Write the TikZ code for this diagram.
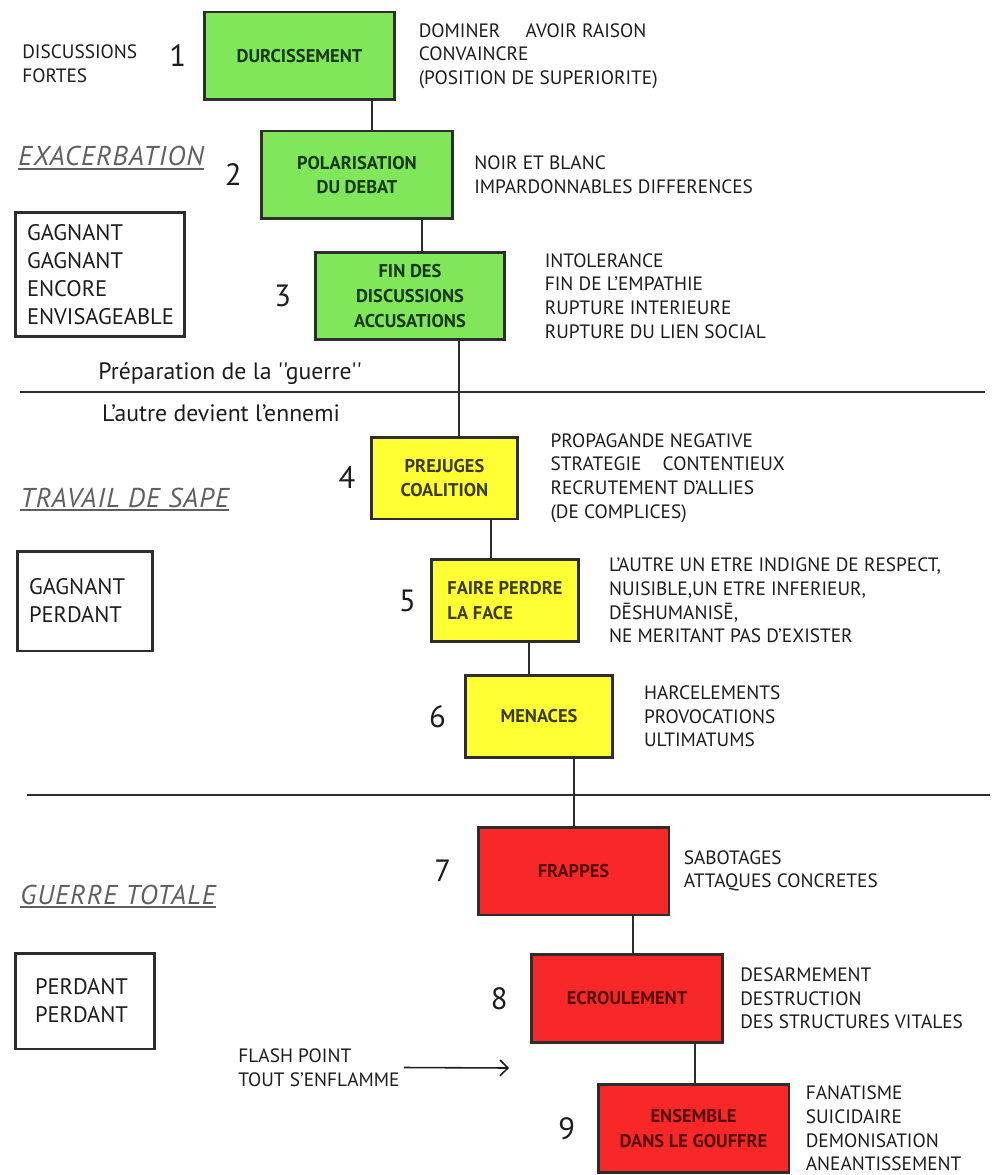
\documentclass[tikz,border=0pt]{standalone}
\usepackage{fontspec}
\setmainfont{PT Sans}
\newfontfamily\droitfont{PT Sans}
\usepackage{tikz}
\usetikzlibrary{positioning,arrows.meta}
\usepackage{xcolor}
\definecolor{vert}{RGB}{128,230,90}
\definecolor{jaune}{RGB}{255,255,51}
\definecolor{rouge}{RGB}{248,40,40}
\definecolor{bord}{RGB}{45,45,45}
\definecolor{encre}{RGB}{28,28,28}
\definecolor{txtvert}{RGB}{25,55,20}
\definecolor{txtjaune}{RGB}{60,60,10}
\definecolor{txtrouge}{RGB}{85,10,10}
\definecolor{gristitre}{RGB}{95,95,95}
\tikzset{
etape/.style = {rectangle, draw=bord, line width=1.7pt, align=center, inner sep=0pt,
font=\fontsize{10.5}{14}\selectfont\bfseries},
etape_v/.style = {etape, fill=vert, text=txtvert, minimum width=3.82cm, minimum height=1.76cm},% etape verte
etape_j/.style = {etape, fill=jaune, text=txtjaune, minimum width=2.93cm, minimum height=1.64cm},% etape jaune
etape_r/.style = {etape, fill=rouge, text=txtrouge, minimum width=3.82cm, minimum height=1.76cm},% etape rouge
etape_num/.style = {inner sep=0pt, text=encre, font=\fontsize{17.5}{20}\selectfont},% numero de l'etape
cote/.style = {inner sep=0pt, align=left, text=encre, font=\fontsize{11}{13.4}\selectfont},% texte a droite
bilan/.style = {rectangle, draw=bord, line width=1.7pt, align=left, inner xsep=0.24cm, text=encre,
font=\fontsize{12.8}{16}\selectfont},% gagnant / perdant
titre/.style = {inner sep=0pt, anchor=base west, text=gristitre,
font=\fontsize{15.5}{17}\selectfont\itshape\addfontfeatures{LetterSpace=4}},
phrase/.style = {inner sep=0pt, text=encre, font=\fontsize{13.5}{15}\selectfont},
lien/.style = {draw=bord, line width=1.4pt},
separe/.style = {draw=bord, line width=1.6pt},
souligne/.style = {draw=gristitre, line width=0.9pt},
fleche/.style = {draw=encre, line width=0.9pt, -{Straight Barb[length=4.5pt,width=9pt]}}
}
\begin{document}
\begin{tikzpicture}[x=0.02cm, y=-0.02cm]
\useasboundingbox (0,0) rectangle (992,1175);
% les neuf etapes
\node [etape_v] (b1) at (299.5,56) {DURCISSEMENT};
\node [etape_v] (b2) at (357,175) {POLARISATION\\DU DEBAT};
\node [etape_v, minimum width=3.8cm] (b3) at (410,296) {FIN DES\\DISCUSSIONS\\ACCUSATIONS};
\node [etape_j] (b4) at (444.5,478) {PREJUGES\\COALITION};
\node [etape_j, align=left] (b5) at (505,600.5) {FAIRE PERDRE\\LA FACE};
\node [etape_j] (b6) at (539,716.5) {MENACES};
\node [etape_r] (b7) at (573.5,871) {FRAPPES};
\node [etape_r] (b8) at (627,998.5) {ECROULEMENT};
\node [etape_r] (b9) at (693.5,1128.5) {ENSEMBLE\\DANS LE GOUFFRE};
\foreach \i/\d in {1/0.32, 2/0.36, 3/0.44, 4/0.28, 5/0.28, 6/0.36, 7/0.5, 8/0.44, 9/0.42}
  \node [etape_num, left=\d cm of b\i] (n\i) {\i};
\foreach \a/\b/\d in {1/2/72.5, 2/3/65, 3/4/49, 4/5/46.5, 5/6/24, 6/7/35, 7/8/59.5, 8/9/68}
  \draw [lien] ([xshift=\d*0.02cm]b\a.south) -- ([xshift=\d*0.02cm]b\a.south |- b\b.north);
% textes a droite
\node [cote, right=0.44cm of b1] (t1) {DOMINER\hspace{1.3em}AVOIR RAISON\\CONVAINCRE\\(POSITION DE SUPERIORITE)};
\node [cote, right=0.4cm of b2] (t2) {NOIR ET BLANC\\IMPARDONNABLES DIFFERENCES};
\node [cote, right=0.76cm of b3] (t3) {INTOLERANCE\\FIN DE L’EMPATHIE\\RUPTURE INTERIEURE\\RUPTURE DU LIEN SOCIAL};
\node [cote, right=0.62cm of b4] (t4) {PROPAGANDE NEGATIVE\\STRATEGIE\hspace{1.1em}CONTENTIEUX\\RECRUTEMENT D’ALLIES\\(DE COMPLICES)};
\node [cote, right=0.58cm of b5] (t5) {L’AUTRE UN ETRE INDIGNE DE RESPECT,\\NUISIBLE,UN ETRE INFERIEUR,\\DĒSHUMANISĒ,\\NE MERITANT PAS D’EXISTER};
\node [cote, right=0.6cm of b6] (t6) {HARCELEMENTS\\PROVOCATIONS\\ULTIMATUMS};
\node [cote, right=0.26cm of b7] (t7) {SABOTAGES\\ATTAQUES CONCRETES};
\node [cote, right=0.32cm of b8] (t8) {DESARMEMENT\\DESTRUCTION\\DES STRUCTURES VITALES};
\node [cote, right=0.3cm of b9] (t9) {FANATISME\\SUICIDAIRE\\DEMONISATION\\ANEANTISSEMENT};
% colonne de gauche
\node [cote, anchor=west] (disc) at (22,63.5) {DISCUSSIONS\\FORTES};
\node [titre] (h1) at (18,166) {EXACERBATION};
\node [bilan, minimum width=3.4cm, minimum height=2.5cm, text width=2.92cm] (g1) at (100,274.5) {GAGNANT\\GAGNANT\\ENCORE\\ENVISAGEABLE};
\node [phrase] (prep) at (230,373) {Préparation de la {\droitfont''guerre''}};
\node [phrase] (ennemi) at (221,413) {L’autre devient l’ennemi};
\node [titre] (h2) at (20,507) {TRAVAIL DE SAPE};
\node [bilan, minimum width=2.72cm, minimum height=2cm, text width=2.24cm] (g2) at (85,601) {GAGNANT\\PERDANT};
\node [titre] (h3) at (20,904) {GUERRE TOTALE};
\node [bilan, minimum width=2.8cm, minimum height=1.92cm, inner xsep=0.4cm, text width=2cm] (g3) at (85,1001) {PERDANT\\PERDANT};
\node [cote, anchor=west] (flash) at (238,1067.5) {FLASH POINT\\TOUT S’ENFLAMME};
\coordinate (flashtip) at (509,1068);
\draw [fleche] ([xshift=0.08cm]flash.east) -- (flashtip);
\foreach \h in {h1,h2,h3}
  \draw [souligne] ([yshift=-0.06cm]\h.base west) -- ([yshift=-0.06cm]\h.base east);
% separations
\draw [separe] (20,392) -- (985,392);
\draw [separe] (27,795) -- (990,795);
\end{tikzpicture}
\end{document}
